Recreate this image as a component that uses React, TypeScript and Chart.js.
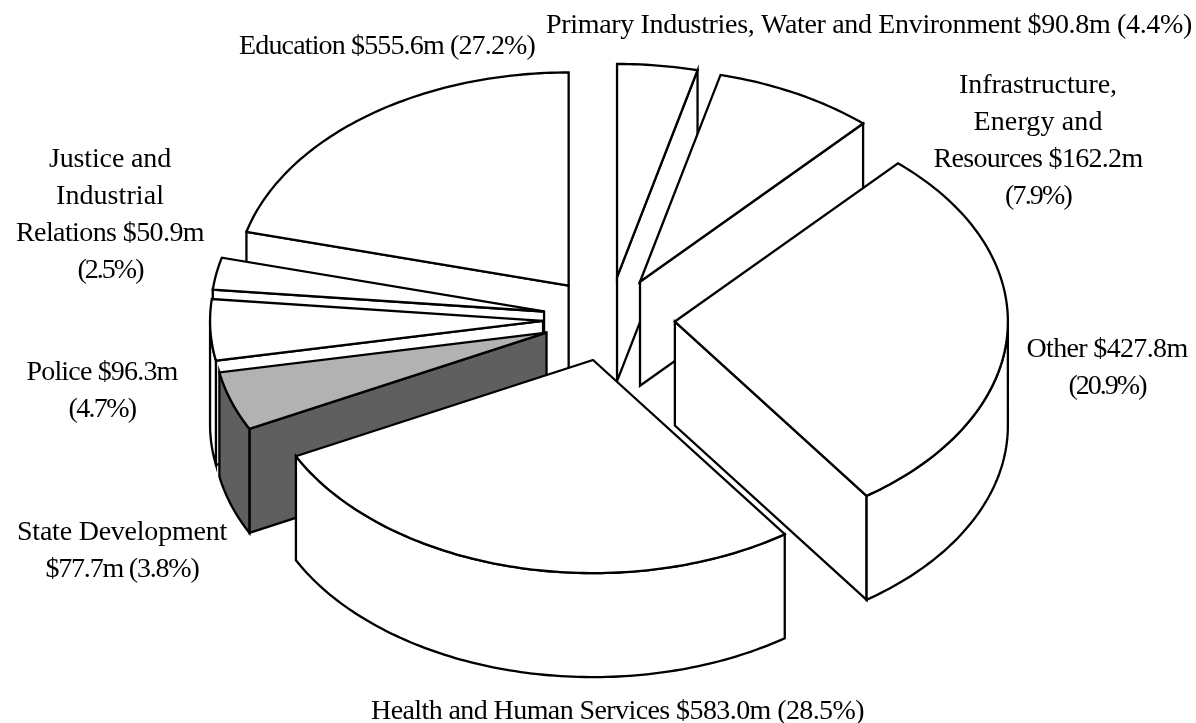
import React, { useEffect, useRef } from "react";
import { Chart, registerables } from "chart.js";

Chart.register(...registerables);

const categories = [
  "Primary Industries, Water and Environment",
  "Infrastructure, Energy and Resources",
  "Other",
  "Health and Human Services",
  "State Development",
  "Police",
  "Justice and Industrial Relations",
  "Education",
];
const valuesMillions = [90.8, 162.2, 427.8, 583.0, 77.7, 96.3, 50.9, 555.6];
const labelLines = [
  ["Primary Industries, Water and Environment $90.8m (4.4%)"],
  ["Infrastructure,", "Energy and", "Resources $162.2m", "(7.9%)"],
  ["Other $427.8m", "(20.9%)"],
  ["Health and Human Services $583.0m (28.5%)"],
  ["State Development", "$77.7m (3.8%)"],
  ["Police $96.3m", "(4.7%)"],
  ["Justice and", "Industrial", "Relations $50.9m", "(2.5%)"],
  ["Education $555.6m (27.2%)"],
];

// ---- styles ----
const topColors = ["#ffffff", "#ffffff", "#ffffff", "#ffffff", "#b2b2b2", "#ffffff", "#ffffff", "#ffffff"];
const sideColors = ["#ffffff", "#ffffff", "#ffffff", "#ffffff", "#5f5f5f", "#ffffff", "#ffffff", "#ffffff"];
// centre x and first baseline of each label
const labelAnchors = [
  [869, 33],
  [1038, 93],
  [1107, 357],
  [617.5, 719],
  [122, 540],
  [102, 380],
  [110, 167],
  [387, 54],
];
// rendered width of each label line (the original face is tighter than the one available)
const labelWidths = [
  [646],
  [158, 129, 209, 66],
  [161, 77],
  [493],
  [210, 153],
  [151, 67],
  [122, 108, 188, 65],
  [296],
];
const FONT = '28px "Liberation Serif"';
const LINE_H = 37;
const TILT = 0.64;
const DEPTH = 104;
const RADIUS = 333;
const EXPLODE = 66;
// Projection distortion of the 3D view: pie angle (deg) -> correction (deg).
const viewWarp = [
  [0, 0],
  [16, -2],
  [45, -2.5],
  [120, 25],
  [222, 20.5],
  [236, 23],
  [262, 22.5],
  [360, 0],
];

function warp(deg: number) {
  for (let i = 1; i < viewWarp.length; i++) {
    const [a, da] = viewWarp[i - 1];
    const [b, db] = viewWarp[i];
    if (deg <= b) return deg + da + ((db - da) * (deg - a)) / (b - a);
  }
  return deg;
}

const pie3d = {
  id: "pie3d",
  beforeDatasetsDraw(chart: any) {
    const { ctx } = chart;
    const arcs = chart.getDatasetMeta(0).data;
    const rad = (d: number) => (d * Math.PI) / 180;
    const slices = arcs.map((arc: any, i: number) => {
      const s = warp(((arc.startAngle + Math.PI / 2) * 180) / Math.PI);
      const e = warp(((arc.endAngle + Math.PI / 2) * 180) / Math.PI);
      const mid = (s + e) / 2;
      const off = arc.options.offset;
      return {
        s,
        e,
        mid,
        i,
        r: arc.outerRadius,
        cx: arc.x + off * Math.sin(rad(mid)),
        cy: arc.y - off * TILT * Math.cos(rad(mid)),
      };
    });
    slices.sort((a: any, b: any) => Math.cos(rad(b.mid)) - Math.cos(rad(a.mid)));

    const poly = (pts: number[][], fill: string) => {
      ctx.beginPath();
      pts.forEach((p, k) => (k ? ctx.lineTo(p[0], p[1]) : ctx.moveTo(p[0], p[1])));
      ctx.closePath();
      ctx.fillStyle = fill;
      ctx.fill();
      ctx.stroke();
    };

    ctx.save();
    ctx.strokeStyle = "#000";
    ctx.lineWidth = 2.3;
    ctx.lineJoin = "miter";
    for (const sl of slices) {
      const pt = (d: number, dz = 0) => [
        sl.cx + sl.r * Math.sin(rad(d)),
        sl.cy - sl.r * TILT * Math.cos(rad(d)) + dz,
      ];
      const arcPts = (a: number, b: number, dz = 0) => {
        const n = Math.max(2, Math.ceil(Math.abs(b - a)));
        const out = [];
        for (let k = 0; k <= n; k++) out.push(pt(a + ((b - a) * k) / n, dz));
        return out;
      };
      const apex = [sl.cx, sl.cy];
      const apexLow = [sl.cx, sl.cy + DEPTH];
      const side = sideColors[sl.i];
      // cut faces that look towards the viewer
      if (Math.sin(rad(sl.s)) < -1e-6) poly([apex, pt(sl.s), pt(sl.s, DEPTH), apexLow], side);
      if (Math.sin(rad(sl.e)) > 1e-6) poly([apex, pt(sl.e), pt(sl.e, DEPTH), apexLow], side);
      // outer wall, front half only
      const a = Math.max(sl.s, 90);
      const b = Math.min(sl.e, 270);
      if (b > a) poly([...arcPts(a, b), ...arcPts(b, a, DEPTH)], side);
      // top surface
      poly([apex, ...arcPts(sl.s, sl.e)], topColors[sl.i]);
    }
    ctx.restore();

    ctx.save();
    ctx.fillStyle = "#000";
    ctx.font = FONT;
    ctx.textAlign = "center";
    ctx.textBaseline = "alphabetic";
    labelLines.forEach((lines, i) => {
      lines.forEach((line, k) => {
        ctx.letterSpacing = "0px";
        const natural = ctx.measureText(line).width;
        ctx.letterSpacing = `${(labelWidths[i][k] - natural) / line.length}px`;
        ctx.fillText(line, labelAnchors[i][0], labelAnchors[i][1] + k * LINE_H);
      });
    });
    ctx.restore();
    return false;
  },
};

export default function App() {
  const ref = useRef<HTMLCanvasElement | null>(null);
  useEffect(() => {
    const chart = new Chart(ref.current as HTMLCanvasElement, {
      type: "pie",
      data: {
        labels: categories,
        datasets: [
          {
            data: valuesMillions,
            backgroundColor: topColors,
            borderColor: "#000",
            borderWidth: 2,
            offset: EXPLODE,
            radius: RADIUS,
          },
        ],
      },
      options: {
        responsive: false,
        animation: false,
        layout: { padding: { left: 22, right: 0, top: 0, bottom: 85 } },
        plugins: { legend: { display: false }, tooltip: { enabled: false } },
      },
      plugins: [pie3d],
    } as any);
    return () => chart.destroy();
  }, []);
  return (
    <div style={{ position: "absolute", left: 0, top: 0, width: 1196, height: 723, background: "#fff" }}>
      <canvas ref={ref} width={1196} height={723} style={{ display: "block" }} />
    </div>
  );
}
